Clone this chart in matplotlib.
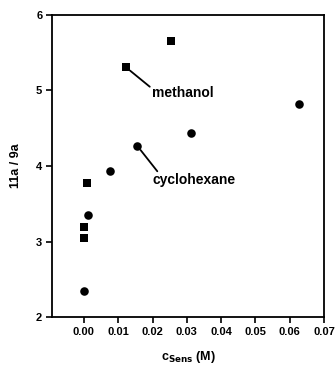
import matplotlib
matplotlib.use("Agg")
import matplotlib.pyplot as plt

# Data
sq_x = [0.0122, 0.0253, 0.0008, 0.0000, 0.0000]
sq_y = [5.31, 5.65, 3.77, 3.19, 3.05]
ci_x = [0.0627, 0.0312, 0.0155, 0.0076, 0.00125, 0.0000]
ci_y = [4.82, 4.44, 4.27, 3.93, 3.35, 2.34]
xticks = [0.00, 0.01, 0.02, 0.03, 0.04, 0.05, 0.06, 0.07]
xticklabels = ["0.00", "0.01", "0.02", "0.03", "0.04", "0.05", "0.06", "0.07"]
yticks = [2, 3, 4, 5, 6]

plt.rcParams['font.family'] = ['Liberation Sans', 'DejaVu Sans']
plt.rcParams['font.weight'] = 'bold'

fig = plt.figure(figsize=(3.36, 3.70), dpi=100)
ax = fig.add_axes([0.1548, 0.1432, 0.8095, 0.8163])

ax.scatter(sq_x, sq_y, marker='s', s=32, color='black', linewidths=0, zorder=3)
ax.scatter(ci_x, ci_y, marker='o', s=38, color='black', linewidths=0, zorder=3)

ax.set_xlim(-0.0093, 0.07)
ax.set_ylim(2, 6)
ax.set_xticks(xticks)
ax.set_xticklabels(xticklabels)
ax.set_yticks(yticks)
ax.tick_params(direction='out', length=4, width=1.2, labelsize=8, pad=3)
for sp in ax.spines.values():
    sp.set_linewidth(1.3)

# labels with leader lines
ax.annotate("", xy=(0.0122, 5.31), xytext=(0.0192, 5.05),
            arrowprops=dict(arrowstyle='-', color='black', lw=1.3,
                            shrinkA=0, shrinkB=4))
ax.text(0.0198, 4.97, "methanol", fontsize=10, fontweight='bold',
        ha='left', va='center')
ax.annotate("", xy=(0.0155, 4.27), xytext=(0.0214, 3.93),
            arrowprops=dict(arrowstyle='-', color='black', lw=1.3,
                            shrinkA=0, shrinkB=4))
ax.text(0.0200, 3.82, "cyclohexane", fontsize=10, fontweight='bold',
        ha='left', va='center')

ax.set_xlabel(r"c$_{\mathbf{Sens}}$ (M)", fontsize=9, fontweight='bold', labelpad=9)
ax.set_ylabel("11a / 9a", fontsize=9, fontweight='bold', labelpad=10)

fig.savefig("out.png", dpi=100)
